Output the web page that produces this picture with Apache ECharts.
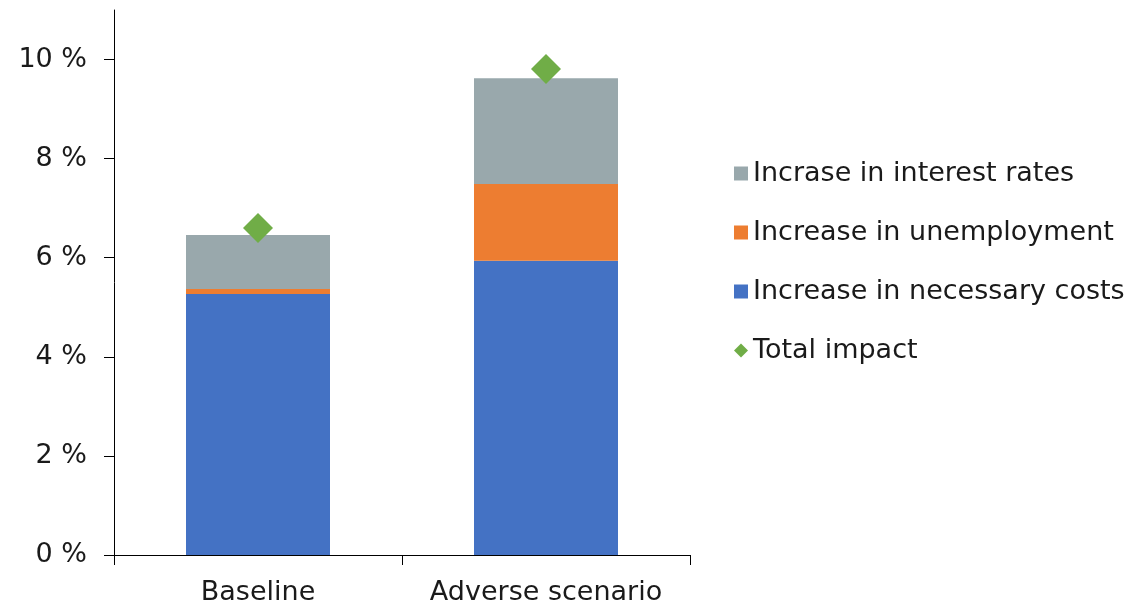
<!DOCTYPE html>
<html>
<head>
<meta charset="utf-8">
<script src="https://cdn.jsdelivr.net/npm/echarts@6/dist/echarts.min.js"></script>
<style>
  html, body { margin: 0; padding: 0; background: #ffffff; }
  #chart { width: 1142px; height: 606px; }
</style>
</head>
<body>
<div id="chart"></div>
<script>
// Scenarios on the category axis
const categories = ['Baseline', 'Adverse scenario'];

// Stacked contributions (percentage points)
const necessaryCosts = [5.27, 5.94];
const unemployment = [0.10, 1.55];
const interestRates = [1.09, 2.13];

// Overall effect shown as a marker
const totalImpact = [6.60, 9.81];

// Value axis ticks
const yTicks = [0, 2, 4, 6, 8, 10];

const seriesNames = {
  rates: 'Incrase in interest rates',
  unemp: 'Increase in unemployment',
  costs: 'Increase in necessary costs',
  total: 'Total impact'
};

const font = 'DejaVu Sans, Verdana, sans-serif';
const textColor = '#1a1a1a';
const fontSize = 27;

const chart = echarts.init(document.getElementById('chart'), null, { renderer: 'canvas' });

chart.setOption({
  animation: false,
  backgroundColor: '#ffffff',
  textStyle: { fontFamily: font },
  grid: { left: 114, right: 452, top: 10, bottom: 51, containLabel: false },
  legend: {
    orient: 'vertical',
    left: 729,
    top: 155,
    itemWidth: 14,
    itemHeight: 14,
    itemGap: 32,
    data: [
      { name: seriesNames.rates, icon: 'rect' },
      { name: seriesNames.unemp, icon: 'rect' },
      { name: seriesNames.costs, icon: 'rect' },
      { name: seriesNames.total, icon: 'diamond' }
    ],
    textStyle: { fontFamily: font, fontSize: fontSize, color: textColor }
  },
  xAxis: {
    type: 'category',
    data: categories,
    axisLine: { lineStyle: { color: '#000', width: 1 } },
    axisTick: { show: true, interval: 0, length: 10, inside: false, lineStyle: { color: '#000' } },
    axisLabel: { interval: 0, hideOverlap: false, fontFamily: font, fontSize: fontSize, color: textColor, margin: 24 },
    splitLine: { show: false }
  },
  yAxis: {
    type: 'value',
    min: 0,
    max: 11,
    interval: 2,
    axisLine: { show: true, lineStyle: { color: '#000', width: 1 } },
    axisTick: { show: true, length: 10, lineStyle: { color: '#000' }, customValues: yTicks },
    axisLabel: {
      fontFamily: font, fontSize: fontSize, color: textColor, margin: 27,
      customValues: yTicks,
      formatter: v => v + ' %'
    },
    splitLine: { show: false }
  },
  series: [
    {
      name: seriesNames.costs, type: 'bar', stack: 'impact', barWidth: '50%',
      itemStyle: { color: '#4472C4' }, data: necessaryCosts
    },
    {
      name: seriesNames.unemp, type: 'bar', stack: 'impact', barWidth: '50%',
      itemStyle: { color: '#ED7D31' }, data: unemployment
    },
    {
      name: seriesNames.rates, type: 'bar', stack: 'impact', barWidth: '50%',
      itemStyle: { color: '#99A8AC' }, data: interestRates
    },
    {
      name: seriesNames.total, type: 'scatter', symbol: 'diamond', symbolSize: 30, z: 5,
      itemStyle: { color: '#70AD47', opacity: 1 }, data: totalImpact
    }
  ]
});
</script>
</body>
</html>
